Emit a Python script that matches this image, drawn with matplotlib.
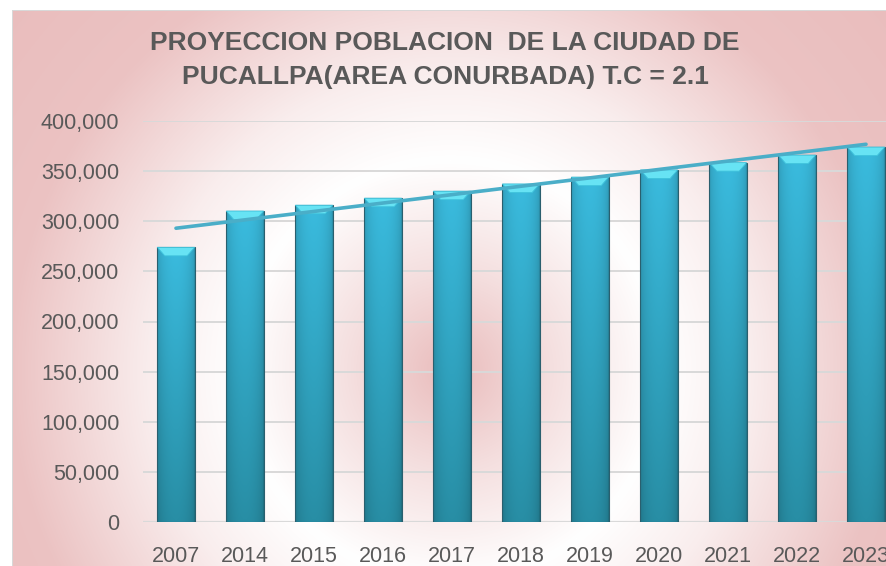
import numpy as np
import matplotlib
matplotlib.use("Agg")
import matplotlib.pyplot as plt
from matplotlib.patches import Polygon, Rectangle
from matplotlib.ticker import FuncFormatter

# datos
anios = ["2007", "2014", "2015", "2016", "2017", "2018",
         "2019", "2020", "2021", "2022", "2023"]
poblacion = [274000, 310200, 316000, 323000, 330000, 337200,
             344000, 351200, 358500, 366000, 374000]

titulo = "PROYECCION POBLACION  DE LA CIUDAD DE\nPUCALLPA(AREA CONURBADA) T.C = 2.1"

W, H = 886, 566
plt.rcParams['font.family'] = ['Liberation Sans', 'DejaVu Sans']
gris = '#595959'

fig = plt.figure(figsize=(W / 100, H / 100), dpi=100)

# fondo degradado (rosa - blanco - rosa)
bg = fig.add_axes([0, 0, 1, 1], zorder=-10)
yy, xx = np.mgrid[0:H, 0:W]
r = np.sqrt((xx - 450) ** 2 + (yy - 370) ** 2)
rs = [0, 100, 210, 300, 440, 700]
ws = [0.05, 0.55, 1.0, 0.75, 0.15, 0.0]
wf = np.interp(r, rs, ws)
rosa = np.array([232, 184, 184]) / 255.0
blanco = np.array([1.0, 1.0, 1.0])
img = rosa[None, None, :] * (1 - wf[..., None]) + blanco[None, None, :] * wf[..., None]
# borde blanco arriba e izquierda
img[:10, :, :] = 1.0
img[:, :12, :] = 1.0
img[10, 12:, :] = 0.85
img[10:, 12, :] = 0.85
bg.imshow(img, extent=(0, W, H, 0), aspect='auto', interpolation='bilinear')
bg.set_xlim(0, W)
bg.set_ylim(H, 0)
bg.axis('off')

# ejes del grafico
left, right, bottom, top = 143, 899, 522, 121
ax = fig.add_axes([left / W, (H - bottom) / H, (right - left) / W, (bottom - top) / H])
ax.patch.set_alpha(0)
x = np.arange(len(anios))
ancho = 0.54
ax.set_xlim(-0.478, len(anios) - 1 + 0.478)
ax.set_ylim(0, 400000)

barras = ax.bar(x, poblacion, width=ancho, color='#35b0d2', edgecolor='none', zorder=3)

# sombreado de cada barra
hprof = np.linspace(0, 1, 40)
perfil_h = 0.78 + 0.22 * np.sin(np.pi * hprof) ** 0.4
vprof = np.linspace(1, 0, 60)
top_c = np.array([58, 187, 222]) / 255.0
bot_c = np.array([40, 142, 165]) / 255.0
for b in barras:
    x0, w, h = b.get_x(), b.get_width(), b.get_height()
    col = bot_c[None, :] + (top_c - bot_c)[None, :] * vprof[:, None]
    grad = col[:, None, :] * perfil_h[None, :, None]
    im = ax.imshow(np.clip(grad, 0, 1), extent=(x0, x0 + w, 0, h), aspect='auto',
                   zorder=3.1, interpolation='bilinear')
    im.set_clip_path(b)
    ax.add_patch(Rectangle((x0, 0), w, h, fill=False, edgecolor='#2a5f6e',
                           linewidth=0.8, zorder=3.3))
    # bisel superior
    cap = 8500
    ins = w * 0.2
    ax.add_patch(Polygon([(x0, h), (x0 + w, h), (x0 + w - ins, h - cap), (x0 + ins, h - cap)],
                         closed=True, facecolor='#67e3f4', edgecolor='#3fc3dc',
                         linewidth=0.6, zorder=3.4))

# linea de tendencia lineal
m, c = np.polyfit(x, poblacion, 1)
ax.plot(x, m * x + c, color='#4aaec8', linewidth=2.6, zorder=4, solid_capstyle='round')

ax.set_yticks(np.arange(0, 400001, 50000))
ax.yaxis.set_major_formatter(FuncFormatter(lambda v, p: f"{int(v):,}"))
ax.set_xticks(x)
ax.set_xticklabels(anios)
ax.grid(axis='y', color='#d9d9d9', linewidth=1.4, zorder=0)
for s in ax.spines.values():
    s.set_visible(False)
ax.tick_params(axis='both', length=0, colors=gris, labelsize=15.5)
ax.tick_params(axis='y', pad=17)
ax.tick_params(axis='x', pad=17)
ax.axhline(0, color='#d9d9d9', linewidth=1.6, zorder=2)

fig.text(445 / W, 1 - 60 / H, titulo, ha='center', va='center', fontsize=19,
         fontweight='bold', color=gris, linespacing=1.55)

fig.savefig("out.png", dpi=100)
